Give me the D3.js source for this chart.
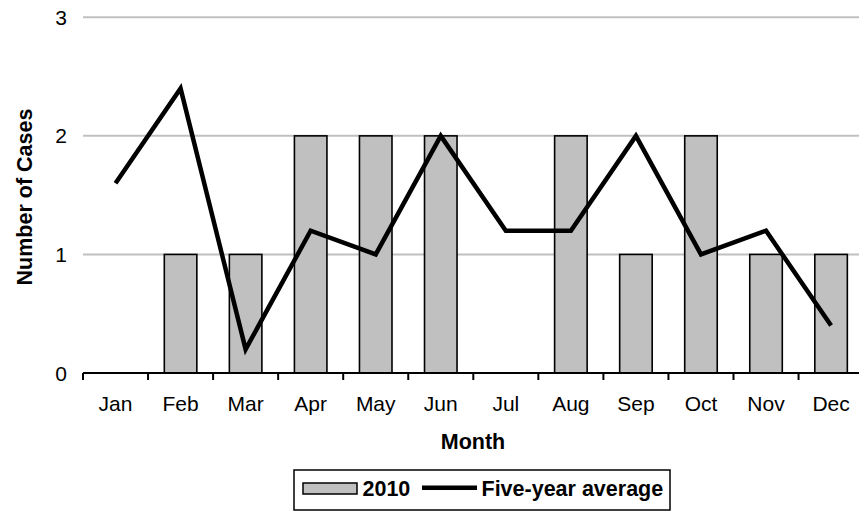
<!DOCTYPE html>
<html><head><meta charset="utf-8">
<script src="https://cdn.jsdelivr.net/npm/d3@7"></script>
<style>body{margin:0;background:#fff}svg{display:block;font-family:Arial,"Liberation Sans",sans-serif}</style>
</head><body><svg id="c" width="859" height="511"></svg>
<script>
const months = ["Jan","Feb","Mar","Apr","May","Jun","Jul","Aug","Sep","Oct","Nov","Dec"];
const cases2010 = [0,1,1,2,2,2,0,2,1,2,1,1];
const fiveYearAvg = [1.6,2.4,0.2,1.2,1.0,2.0,1.2,1.2,2.0,1.0,1.2,0.4];
const yTicks = [0,1,2,3];

const svg = d3.select("#c");
const x = d3.scaleBand().domain(months).range([83, 863.6]).paddingInner(0.5).paddingOuter(0.25);
const xb = d3.scaleBand().domain(months).range([83, 863.6]);
const y = d3.scaleLinear().domain([0,3]).range([373, 17.3]);

// gridlines
svg.append("g").selectAll("line").data(yTicks.filter(d=>d>0)).join("line")
  .attr("x1",83).attr("x2",859).attr("y1",d=>y(d)).attr("y2",d=>y(d))
  .attr("stroke","#c0c0c0").attr("stroke-width",2);

// y labels
svg.append("g").selectAll("text").data(yTicks).join("text")
  .attr("x",67).attr("y",d=>y(d)).attr("dy","0.36em").attr("text-anchor","end")
  .attr("font-size",21).text(d=>d);

// bars
svg.append("g").selectAll("rect").data(months.map((m,i)=>({m,v:cases2010[i]})).filter(d=>d.v>0)).join("rect")
  .attr("x",d=>x(d.m)).attr("width",x.bandwidth())
  .attr("y",d=>y(d.v)).attr("height",d=>y(0)-y(d.v))
  .attr("fill","#c0c0c0").attr("stroke","#000").attr("stroke-width",1.6);

// x axis
const xa = svg.append("g").attr("transform",`translate(0,${y(0)})`);
xa.append("line").attr("x1",83).attr("x2",859).attr("stroke","#000").attr("stroke-width",2.2);
xa.selectAll("line.t").data(months).join("line").attr("class","t")
  .attr("x1",d=>xb(d)).attr("x2",d=>xb(d)).attr("y1",0).attr("y2",7)
  .attr("stroke","#000").attr("stroke-width",2);
xa.selectAll("text").data(months).join("text")
  .attr("x",d=>xb(d)+xb.bandwidth()/2).attr("y",37.8).attr("text-anchor","middle")
  .attr("font-size",21).text(d=>d);

// line
const line = d3.line().x((d,i)=>xb(months[i])+xb.bandwidth()/2).y(d=>y(d));
svg.append("path").datum(fiveYearAvg).attr("d",line).attr("fill","none")
  .attr("stroke","#000").attr("stroke-width",4.5).attr("stroke-linejoin","miter");

// axis titles
svg.append("text").attr("x",473).attr("y",449).attr("text-anchor","middle")
  .attr("font-size",21.5).attr("font-weight","bold").text("Month");
svg.append("text").attr("transform","translate(31.5,197) rotate(-90)").attr("text-anchor","middle")
  .attr("font-size",21.5).attr("font-weight","bold").text("Number of Cases");

// legend
const lg = svg.append("g");
lg.append("rect").attr("x",294).attr("y",470).attr("width",376).attr("height",40)
  .attr("fill","#fff").attr("stroke","#000").attr("stroke-width",1.5);
lg.append("rect").attr("x",303).attr("y",483).attr("width",54).attr("height",11)
  .attr("fill","#c0c0c0").attr("stroke","#000").attr("stroke-width",1.5);
lg.append("text").attr("x",362.5).attr("y",495.5).attr("font-size",21.5).attr("font-weight","bold").text("2010");
lg.append("line").attr("x1",422).attr("x2",477).attr("y1",487.8).attr("y2",487.8).attr("stroke","#000").attr("stroke-width",4.5);
lg.append("text").attr("x",481.5).attr("y",495.5).attr("font-size",21.5).attr("font-weight","bold").text("Five-year average");
</script></body></html>
